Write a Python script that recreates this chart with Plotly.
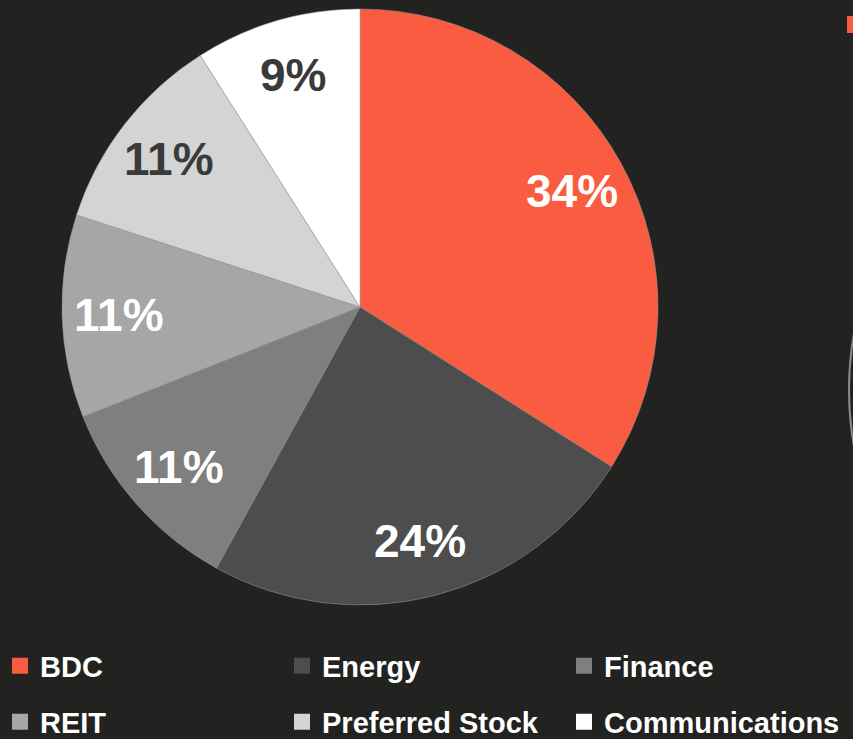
import math
import plotly.graph_objects as go

categories = ["BDC", "Energy", "Finance", "REIT", "Preferred Stock", "Communications"]
values = [34, 24, 11, 11, 11, 9]
colors = ["#F95C40", "#4D4D4D", "#7F7F7F", "#A6A6A6", "#D4D4D4", "#FFFFFF"]
text_colors = ["#FFFFFF", "#FFFFFF", "#FFFFFF", "#FFFFFF", "#3A3A3A", "#3A3A3A"]

W, H = 853, 739
BG = "#222221"
FONT = "Liberation Sans"

# pie domain (paper fractions)
dom_x = [62 / W, 658 / W]
dom_y = [1 - 605 / H, 1 - 9 / H]

fig = go.Figure()
fig.add_trace(go.Pie(
    labels=categories,
    values=values,
    sort=False,
    direction="clockwise",
    rotation=0,
    marker=dict(colors=colors, line=dict(color="#9A9A9A", width=0.5)),
    textinfo="none",
    hoverinfo="label+percent",
    showlegend=False,
    domain=dict(x=dom_x, y=dom_y),
))

# percentage labels placed along each slice's mid-angle
total = sum(values)
cx = (dom_x[0] + dom_x[1]) / 2 * W
cy = (1 - (dom_y[0] + dom_y[1]) / 2) * H
radius = (dom_x[1] - dom_x[0]) * W / 2
label_r = 0.81 * radius
cum = 0.0
annotations = []
for v, tc in zip(values, text_colors):
    mid = (cum + v / 2) / total * 2 * math.pi
    cum += v
    px = cx + label_r * math.sin(mid)
    py = cy - label_r * math.cos(mid)
    annotations.append(dict(
        x=px / W, y=1 - py / H, xref="paper", yref="paper",
        text=f"{round(v / total * 100)}%", showarrow=False,
        xanchor="center", yanchor="middle",
        font=dict(family=FONT, size=46, color=tc, weight="bold"),
    ))

# legend entries (two rows of three)
for i, (cat, col) in enumerate(zip(categories, colors)):
    fig.add_trace(go.Scatter(
        x=[None], y=[None], mode="markers", name=cat,
        marker=dict(symbol="square", size=16, color=col),
        legend="legend" if i < 3 else "legend2",
        showlegend=True, hoverinfo="skip",
    ))

legend_common = dict(
    orientation="h",
    x=0.0, xanchor="left",
    yanchor="middle",
    entrywidth=237, entrywidthmode="pixels",
    font=dict(family=FONT, size=29, color="#FFFFFF", weight="bold"),
    bgcolor="rgba(0,0,0,0)",
    itemclick=False, itemdoubleclick=False,
)

fig.update_layout(
    width=W, height=H,
    paper_bgcolor=BG, plot_bgcolor=BG,
    margin=dict(l=0, r=0, t=0, b=0, autoexpand=False),
    showlegend=True,
    xaxis=dict(visible=False),
    yaxis=dict(visible=False),
    legend=dict(legend_common, y=1 - 666 / H),
    legend2=dict(legend_common, y=1 - 722 / H),
    annotations=annotations,
    shapes=[
        dict(type="rect", xref="paper", yref="paper",
             x0=847 / W, x1=860 / W, y0=1 - 33 / H, y1=1 - 16 / H,
             fillcolor="#F95C40", line=dict(width=0)),
        dict(type="circle", xref="paper", yref="paper",
             x0=849 / W, x1=(849 + 654) / W, y0=1 - (390 + 327) / H, y1=1 - (390 - 327) / H,
             line=dict(color="#8A8A8A", width=2), fillcolor="rgba(0,0,0,0)"),
    ],
)

fig.write_html(
    "out.html",
    config={"displayModeBar": False},
    post_script="document.body.style.margin='0';document.body.style.background='#222221';",
)
